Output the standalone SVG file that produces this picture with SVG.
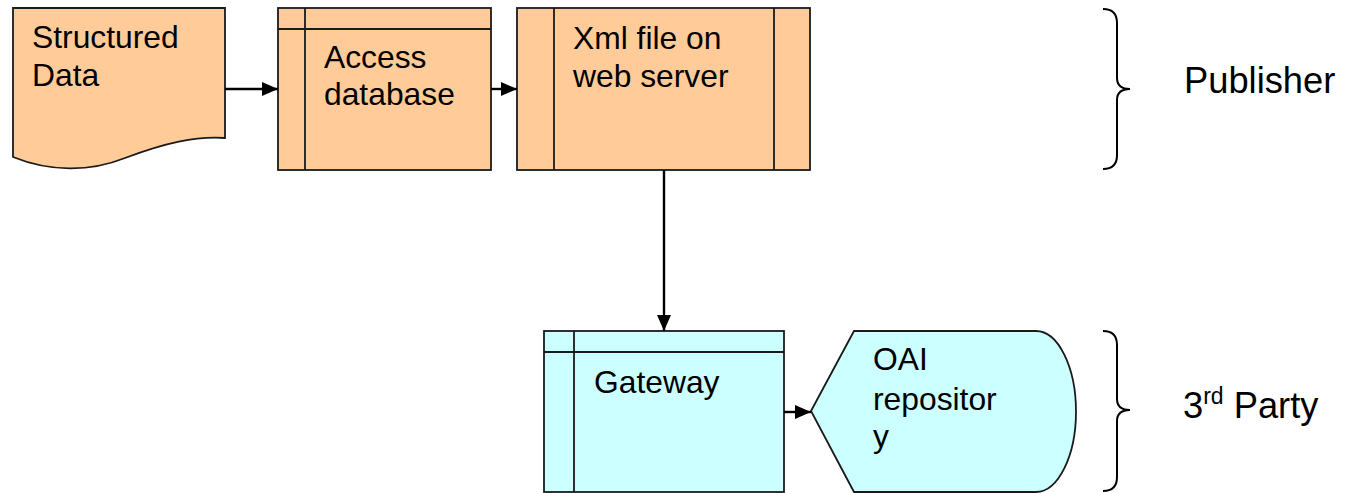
<svg xmlns="http://www.w3.org/2000/svg" width="1347" height="493" viewBox="0 0 1347 493">
<style>
.orange{fill:#FFCC99;stroke:#1a1a1a;stroke-width:1.8}
.cyan{fill:#CCFFFF;stroke:#1a1a1a;stroke-width:1.8}
.ln{fill:none;stroke:#1a1a1a;stroke-width:1.8}
.t{font-family:"Liberation Sans",Arial,sans-serif;font-size:31.8px;fill:#000}
.lbl{font-family:"Liberation Sans",Arial,sans-serif;font-size:36.3px;fill:#000}
.conn{fill:none;stroke:#000;stroke-width:2.4}
.brace{fill:none;stroke:#000;stroke-width:2}
</style>
<defs>
<marker id="ah" markerUnits="userSpaceOnUse" markerWidth="17" markerHeight="14" refX="16" refY="7" orient="auto">
<path d="M0,0 L16,7 L0,14 z" fill="#000"/>
</marker>
</defs>
<rect width="1347" height="493" fill="#fff"/>
<g id="structured-data">
<path class="orange" d="M13,8 H225 V138 C195,136 165,143 125,158 C90,172 50,172 13,157 Z"/>
<text class="t" x="32" y="48">Structured</text>
<text class="t" x="32" y="86">Data</text>
</g>
<g id="access-database">
<rect class="orange" x="278" y="8" width="213" height="162"/>
<line class="ln" x1="305" y1="8" x2="305" y2="170"/>
<line class="ln" x1="278" y1="29" x2="491" y2="29"/>
<text class="t" x="324" y="68">Access</text>
<text class="t" x="324" y="105">database</text>
</g>
<g id="xml-file">
<rect class="orange" x="517" y="8" width="293" height="162"/>
<line class="ln" x1="554" y1="8" x2="554" y2="170"/>
<line class="ln" x1="774" y1="8" x2="774" y2="170"/>
<text class="t" x="573" y="49">Xml file on</text>
<text class="t" x="573" y="87">web server</text>
</g>
<g id="gateway">
<rect class="cyan" x="544" y="331" width="240" height="161"/>
<line class="ln" x1="574" y1="331" x2="574" y2="492"/>
<line class="ln" x1="544" y1="352" x2="784" y2="352"/>
<text class="t" x="594" y="393">Gateway</text>
</g>
<g id="oai-repository">
<path class="cyan" d="M811,411 L854,331 H1036 A40,80.5 0 0 1 1036,492 H854 Z"/>
<text class="t" x="873" y="370">OAI</text>
<text class="t" x="873" y="410">repositor</text>
<text class="t" x="873" y="447">y</text>
</g>
<g id="publisher">
<path class="brace" d="M1103,9 Q1117,9 1117,23 V78 Q1117,89 1130,89 Q1117,89 1117,100 V155 Q1117,169 1103,169"/>
<text class="lbl" x="1184" y="93">Publisher</text>
</g>
<g id="third-party">
<path class="brace" d="M1103,331 Q1117,331 1117,345 V399 Q1117,410 1130,410 Q1117,410 1117,421 V477 Q1117,491 1103,491"/>
<text class="lbl" x="1183" y="418">3<tspan font-size="23" dy="-14">rd</tspan><tspan dy="14"> Party</tspan></text>
</g>
<g id="connectors">
<line class="conn" x1="225" y1="89" x2="278" y2="89" marker-end="url(#ah)"/>
<line class="conn" x1="491" y1="89" x2="517" y2="89" marker-end="url(#ah)"/>
<line class="conn" x1="664" y1="170" x2="664" y2="331" marker-end="url(#ah)"/>
<line class="conn" x1="784" y1="412" x2="811" y2="412" marker-end="url(#ah)"/>
</g>
</svg>
